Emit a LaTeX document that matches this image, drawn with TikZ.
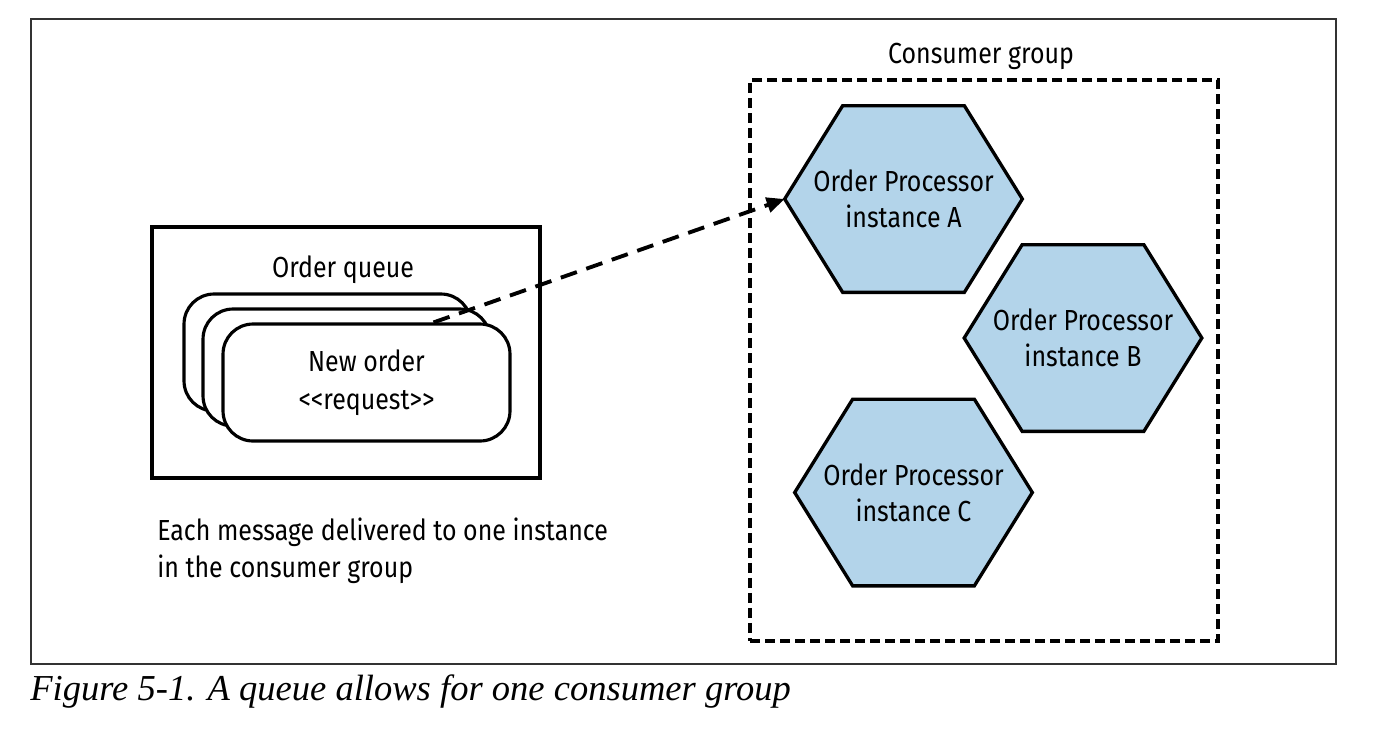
\documentclass[tikz,border=0pt]{standalone}
\usepackage{fontspec}
\setmainfont[FakeStretch=0.86]{Fira Sans}
\newfontfamily\capfont{Liberation Serif}
\usetikzlibrary{arrows.meta,backgrounds}
\definecolor{procblue}{RGB}{179,212,234}

\begin{document}
\begin{tikzpicture}[x=0.02cm, y=-0.02cm,
  frame/.style={rectangle, draw=black!80, line width=0.8pt, minimum width=26.1cm, minimum height=12.9cm},
  queuebox/.style={rectangle, draw, line width=1.8pt, minimum width=7.76cm, minimum height=5.02cm},
  groupbox/.style={rectangle, draw, line width=1.8pt, dash pattern=on 0.2cm off 0.1cm, minimum width=9.36cm, minimum height=11.22cm},
  card/.style={rectangle, draw, line width=1.8pt, rounded corners=0.6cm, fill=white, minimum width=5.74cm, minimum height=2.34cm, align=center, font=\fontsize{16.5}{21.8}\selectfont},
  proc/.style={rectangle, minimum width=4.74cm, minimum height=3.72cm, inner sep=0pt, align=center, font=\fontsize{16.5}{20.5}\selectfont},
  hexline/.style={draw, line width=1.9pt, fill=procblue},
  txt/.style={font=\fontsize{16.5}{20.5}\selectfont, align=left, inner sep=0pt}
]
\useasboundingbox (0,0) rectangle (1388,731);

% Outer frame
\node[frame] (outer) at (683.5,341.5) {};

% Order queue
\node[queuebox] (queue) at (346,352.5) {};
\node[txt] (qlabel) at (343,270) {Order queue};
\node[card] (back) at (327.5,352.5) {};
\node[card] (mid) at (346.5,367.5) {};
\node[card] (front) at (366.5,382.5) {New order\\<\kern0pt<request>\kern0pt>};

% Note
\node[txt, anchor=base west] (note) at (157,577) {Each message delivered to one instance\\in the consumer group};

% Consumer group
\node[groupbox] (group) at (984,360.5) {};
\node[txt] (glabel) at (981,56) {Consumer group};
\node[proc] (procA) at (903.5,199) {Order Processor\\instance A};
\node[proc] (procB) at (1083,338) {Order Processor\\instance B};
\node[proc] (procC) at (913.5,492.5) {Order Processor\\instance C};

% Hexagons behind the processor labels
\begin{pgfonlayer}{background}
\foreach \p in {procA,procB,procC}
  \draw[hexline] (\p.west) -- ([xshift=1.16cm]\p.north west) -- ([xshift=-1.16cm]\p.north east)
    -- (\p.east) -- ([xshift=-1.16cm]\p.south east) -- ([xshift=1.16cm]\p.south west) -- cycle;
\end{pgfonlayer}

% Message delivery
\draw[line width=2.2pt, dash pattern=on 0.34cm off 0.2cm, -{Triangle[length=0.36cm, width=0.3cm]}] ([xshift=1.34cm]front.north) -- (procA.west);

% Caption
\node[font=\capfont\itshape\fontsize{20.8}{25}\selectfont, anchor=base west, inner sep=0pt] (caption) at (30,700) {Figure 5-1. A queue allows for one consumer group};

\end{tikzpicture}
\end{document}
